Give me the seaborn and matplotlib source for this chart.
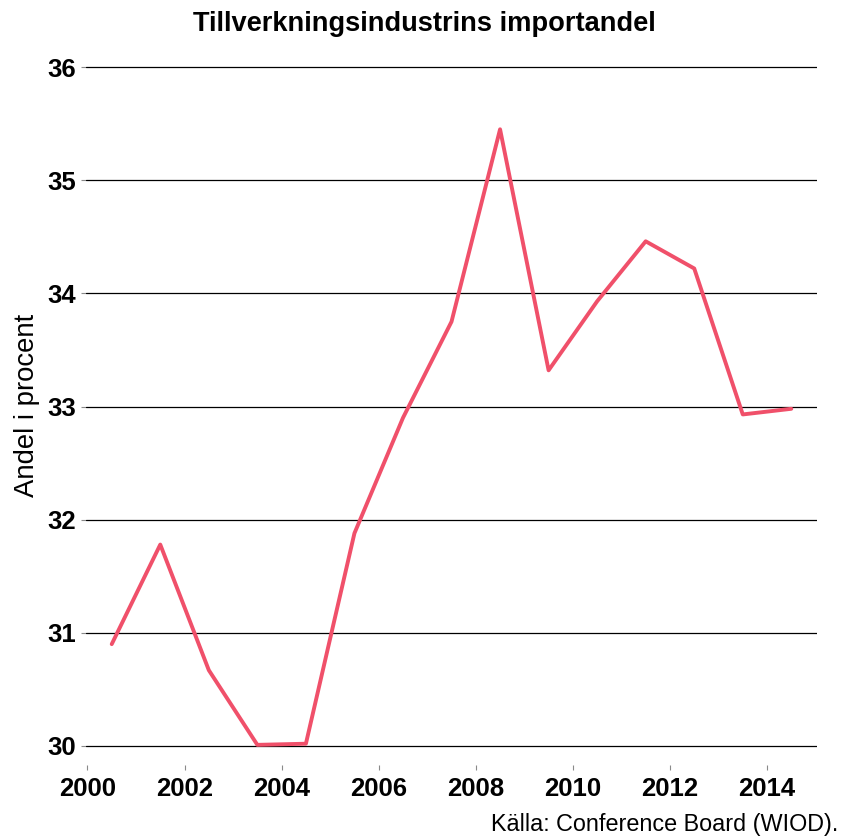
import numpy as np
import pandas as pd
import seaborn as sns
import matplotlib.pyplot as plt

# data
years = [2000.5, 2001.5, 2002.5, 2003.5, 2004.5, 2005.5, 2006.5, 2007.5,
         2008.5, 2009.5, 2010.5, 2011.5, 2012.5, 2013.5, 2014.5]
andel = [30.90, 31.78, 30.67, 30.01, 30.02, 31.88, 32.90, 33.75,
         35.45, 33.32, 33.93, 34.46, 34.22, 32.93, 32.98]
xticks = [2000, 2002, 2004, 2006, 2008, 2010, 2012, 2014]
yticks = [30, 31, 32, 33, 34, 35, 36]

df = pd.DataFrame({"year": years, "andel": andel})

sns.set_style("white")
plt.rcParams['font.family'] = ['Liberation Sans', 'DejaVu Sans']
plt.rcParams['text.color'] = 'black'
plt.rcParams['xtick.bottom'] = True
plt.rcParams['ytick.left'] = True

fig = plt.figure(figsize=(8.43, 8.39), dpi=100)
ax = fig.add_axes([0.1026, 0.0882, 0.8666, 0.8331])

for y in yticks:
    ax.axhline(y, color="black", lw=0.9, zorder=1)

sns.lineplot(data=df, x="year", y="andel", color="#F0506A", lw=2.8, ax=ax, zorder=3)

ax.set_xlim(1999.98, 2015.03)
ax.set_ylim(29.832, 36.009)
ax.set_xticks(xticks)
ax.set_yticks(yticks)
ax.set_xticklabels([str(t) for t in xticks], fontsize=18.5, fontweight="bold")
ax.set_yticklabels([str(t) for t in yticks], fontsize=18.5, fontweight="bold")
ax.tick_params(axis="both", length=3.6, color="#8a8a8a", width=0.8,
               labelcolor="black")
ax.tick_params(axis="y", pad=4)
ax.tick_params(axis="x", pad=5)
for s in ax.spines.values():
    s.set_visible(False)

ax.set_xlabel("")
ax.set_ylabel("Andel i procent", fontsize=19.8, color="black")
ax.yaxis.set_label_coords(-0.0637, 0.514)
fig.text(0.503, 1 - 31 / 839, "Tillverkningsindustrins importandel",
         ha="center", va="baseline", fontsize=19.6, fontweight="bold")
fig.text(0.994, 0.004, "Källa: Conference Board (WIOD).", ha="right",
         va="bottom", fontsize=16.8)

fig.savefig("out.png", dpi=100)
